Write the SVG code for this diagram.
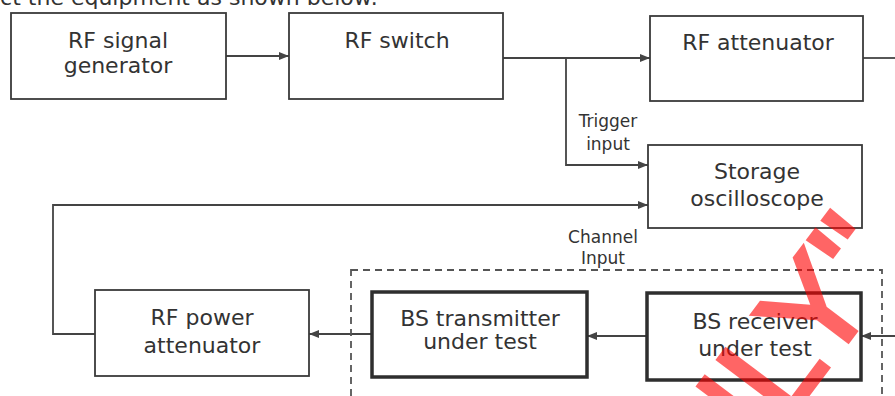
<svg xmlns="http://www.w3.org/2000/svg" width="895" height="396" viewBox="0 0 895 396">
<style>
.box{fill:#fff;stroke:#3a3a3a;stroke-width:1.8}
.thick{fill:#fff;stroke:#2e2e2e;stroke-width:3.5}
.t{font-family:"DejaVu Sans","Verdana",sans-serif;font-size:22px;fill:#333;text-anchor:middle}
.s{font-family:"DejaVu Sans","Verdana",sans-serif;font-size:17px;fill:#333;text-anchor:middle}
.c{fill:none;stroke:#444;stroke-width:1.8}
.dash{fill:none;stroke:#555;stroke-width:1.8;stroke-dasharray:7 5}
.wm{font-family:"Liberation Sans",Arial,sans-serif;font-size:135px;fill:#ff0000;stroke:#ff0000;stroke-width:4;opacity:0.6;text-anchor:end}
</style>
<defs>
<marker id="ah" viewBox="0 0 10 8" refX="10" refY="4" markerWidth="10" markerHeight="8" markerUnits="userSpaceOnUse" orient="auto">
<path d="M0,0 L10,4 L0,8 Z" fill="#444"/>
</marker>
</defs>
<rect width="895" height="396" fill="#fff"/>
<text class="t" x="378" y="5" style="text-anchor:end">Connect the equipment as shown below:</text>

<g id="connectors">
<line class="c" x1="226" y1="56" x2="289" y2="56" marker-end="url(#ah)"/>
<line class="c" x1="503" y1="58" x2="650" y2="58" marker-end="url(#ah)"/>
<path class="c" d="M566,58 V165 H648" marker-end="url(#ah)"/>
<line class="c" x1="863" y1="58" x2="895" y2="58"/>
<path class="c" d="M95,334 H53 V205 H648" marker-end="url(#ah)"/>
<line class="c" x1="647" y1="336" x2="587" y2="336" marker-end="url(#ah)"/>
<line class="c" x1="372" y1="334" x2="309" y2="334" marker-end="url(#ah)"/>
<line class="c" x1="895" y1="336" x2="861" y2="336" marker-end="url(#ah)"/>
<text class="s" x="608" y="127">Trigger</text>
<text class="s" x="608" y="150">input</text>
<text class="s" x="603" y="243">Channel</text>
<text class="s" x="603" y="264">Input</text>
</g>

<g id="dut-group">
<rect class="dash" x="351" y="270" width="531" height="150"/>
</g>

<g id="rf-signal-generator">
<rect class="box" x="11" y="13" width="215" height="86"/>
<text class="t" x="118" y="48">RF signal</text>
<text class="t" x="118" y="73">generator</text>
</g>
<g id="rf-switch">
<rect class="box" x="289" y="13" width="214" height="86"/>
<text class="t" x="397" y="48">RF switch</text>
</g>
<g id="rf-attenuator">
<rect class="box" x="650" y="16" width="213" height="85"/>
<text class="t" x="758" y="50">RF attenuator</text>
</g>
<g id="storage-oscilloscope">
<rect class="box" x="648" y="145" width="214" height="83"/>
<text class="t" x="757" y="179">Storage</text>
<text class="t" x="757" y="206">oscilloscope</text>
</g>
<g id="rf-power-attenuator">
<rect class="box" x="95" y="290" width="214" height="86"/>
<text class="t" x="202" y="325">RF power</text>
<text class="t" x="202" y="353">attenuator</text>
</g>
<g id="bs-transmitter">
<rect class="thick" x="372" y="292" width="215" height="85"/>
<text class="t" x="480" y="326">BS transmitter</text>
<text class="t" x="480" y="349">under test</text>
</g>
<g id="bs-receiver">
<rect class="thick" x="647" y="293" width="214" height="87"/>
<text class="t" x="755" y="329">BS receiver</text>
<text class="t" x="755" y="356">under test</text>
</g>

<text class="wm" transform="translate(908,262) rotate(-53)">ONLY"</text>
</svg>
